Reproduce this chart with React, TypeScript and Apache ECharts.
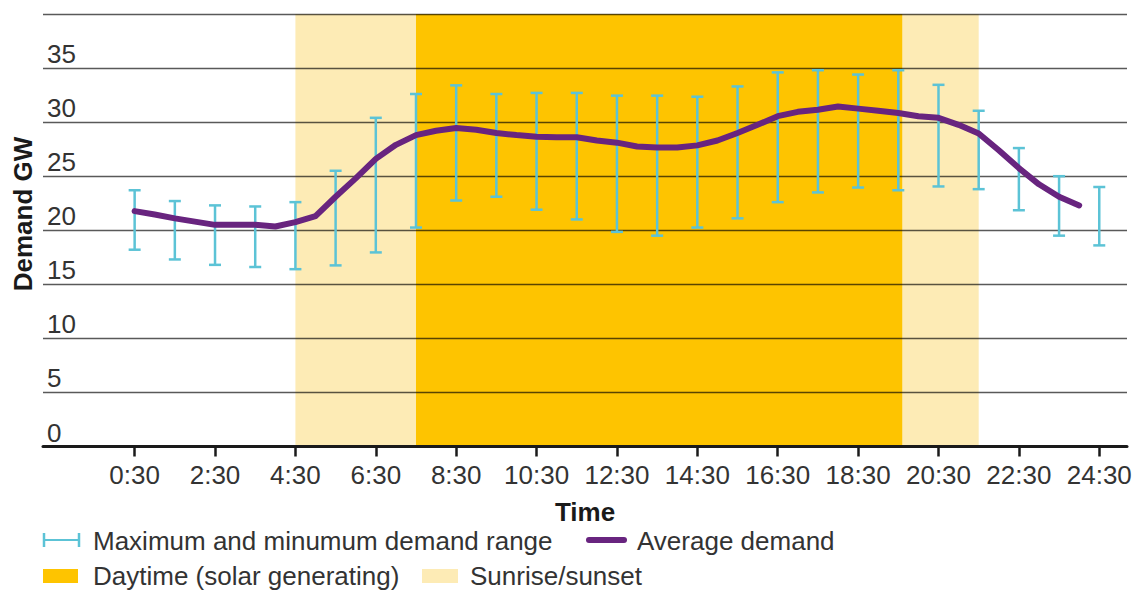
import React, { useEffect, useRef } from "react";
import * as echarts from "echarts";

// Average demand (GW), half-hourly, hours since midnight
const lineHours = [
  0.5, 1, 1.5, 2, 2.5, 3, 3.5, 4, 4.5, 5, 5.5, 6, 6.5, 7, 7.5, 8, 8.5, 9, 9.5, 10,
  10.5, 11, 11.5, 12, 12.5, 13, 13.5, 14, 14.5, 15, 15.5, 16, 16.5, 17, 17.5, 18,
  18.5, 19, 19.5, 20, 20.5, 21, 21.5, 22, 22.5, 23, 23.5, 24,
];
const avgDemand = [
  21.77, 21.45, 21.1, 20.8, 20.5, 20.5, 20.5, 20.35, 20.75, 21.3, 23.1, 24.8, 26.6,
  27.9, 28.8, 29.2, 29.45, 29.3, 29.0, 28.8, 28.65, 28.6, 28.6, 28.3, 28.1, 27.75,
  27.65, 27.65, 27.85, 28.3, 29.0, 29.75, 30.55, 30.95, 31.15, 31.45, 31.25, 31.05,
  30.85, 30.55, 30.4, 29.75, 28.95, 27.4, 25.75, 24.25, 23.1, 22.3,
];

// Max / min demand range, hourly
const rangeHours = [
  0.5, 1.5, 2.5, 3.5, 4.5, 5.5, 6.5, 7.5, 8.5, 9.5, 10.5, 11.5, 12.5, 13.5, 14.5,
  15.5, 16.5, 17.5, 18.5, 19.5, 20.5, 21.5, 22.5, 23.5, 24.5,
];
const minDemand = [
  18.2, 17.3, 16.8, 16.6, 16.4, 16.75, 17.95, 20.25, 22.75, 23.1, 21.9, 21.0, 19.85,
  19.5, 20.25, 21.1, 22.6, 23.5, 23.95, 23.7, 24.05, 23.8, 21.85, 19.5, 18.6,
];
const maxDemand = [
  23.7, 22.7, 22.3, 22.2, 22.6, 25.5, 30.4, 32.6, 33.4, 32.6, 32.7, 32.7, 32.45,
  32.45, 32.35, 33.3, 34.6, 34.8, 34.4, 34.8, 33.45, 31.05, 27.6, 25.0, 24.0,
];

// Shaded periods [start hour, end hour]
const sunriseBands: [number, number][] = [
  [4.5, 7.5],
  [19.6, 21.5],
];
const daytimeBands: [number, number][] = [[7.5, 19.6]];

const xTickHours = [0.5, 2.5, 4.5, 6.5, 8.5, 10.5, 12.5, 14.5, 16.5, 18.5, 20.5, 22.5, 24.5];

const legendLabels = {
  range: "Maximum and minumum demand range",
  avg: "Average demand",
  day: "Daytime (solar generating)",
  sun: "Sunrise/sunset",
};

const FONT = "'Liberation Sans', Arial, Helvetica, sans-serif";
const PURPLE = "#68247f";
const CYAN = "#5cc3d6";
const GOLD = "#fec400";
const LIGHT = "#fdebb5";
const TEXT = "#333333";

export default function App() {
  const ref = useRef<HTMLDivElement>(null);

  useEffect(() => {
    document.body.style.margin = "0";
    const chart = echarts.init(ref.current!, undefined, { renderer: "svg" });

    const lineData = lineHours.map((h, i) => [h, avgDemand[i]]);
    const rangeData = rangeHours.map((h, i) => [h, minDemand[i], maxDemand[i]]);

    const markAreaData: any[] = [
      ...sunriseBands.map(([a, b]) => [
        { xAxis: a, itemStyle: { color: LIGHT } },
        { xAxis: b },
      ]),
      ...daytimeBands.map(([a, b]) => [
        { xAxis: a, itemStyle: { color: GOLD } },
        { xAxis: b },
      ]),
    ];

    const option: any = {
      animation: false,
      grid: { left: 43, right: 8, top: 14, bottom: 143.5, containLabel: false },
      xAxis: {
        type: "value",
        min: -1.78,
        max: 25.19,
        z: 4,
        name: "Time",
        nameLocation: "middle",
        nameGap: 52,
        nameTextStyle: {
          fontFamily: FONT,
          fontSize: 26,
          fontWeight: "bold",
          color: "#1a1a1a",
        },
        axisLine: { show: true, onZero: false, lineStyle: { color: "#1a1a1a", width: 3 } },
        axisTick: {
          show: true,
          customValues: xTickHours,
          length: 10,
          lineStyle: { color: "#1a1a1a", width: 2.5 },
        },
        axisLabel: {
          customValues: xTickHours,
          margin: 15,
          fontFamily: FONT,
          fontSize: 26,
          color: TEXT,
          formatter: (v: number) => `${Math.floor(v)}:30`,
        },
        splitLine: { show: false },
      },
      yAxis: {
        type: "value",
        min: 0,
        max: 40,
        interval: 5,
        z: 3,
        axisLine: { show: false },
        axisTick: { show: false },
        axisLabel: {
          inside: true,
          margin: 4,
          verticalAlign: "bottom",
          lineHeight: 28,
          fontFamily: FONT,
          fontSize: 26,
          color: TEXT,
          formatter: (v: number) => (v === 40 ? "" : String(v)),
        },
        splitLine: { show: true, lineStyle: { color: "rgba(0,0,0,0.65)", width: 1.3 } },
      },
      series: [
        {
          type: "line",
          name: "bands",
          data: [],
          z: 1,
          silent: true,
          markArea: { silent: true, data: markAreaData },
        },
        {
          type: "custom",
          name: legendLabels.range,
          z: 5,
          data: rangeData,
          renderItem: (params: any, api: any) => {
            const x = api.value(0);
            const lo = api.coord([x, api.value(1)]);
            const hi = api.coord([x, api.value(2)]);
            const w = 6;
            const style = { stroke: CYAN, lineWidth: 2.5, fill: "none" };
            return {
              type: "group",
              children: [
                { type: "line", shape: { x1: lo[0], y1: lo[1], x2: hi[0], y2: hi[1] }, style },
                { type: "line", shape: { x1: hi[0] - w, y1: hi[1], x2: hi[0] + w, y2: hi[1] }, style },
                { type: "line", shape: { x1: lo[0] - w, y1: lo[1], x2: lo[0] + w, y2: lo[1] }, style },
              ],
            };
          },
        },
        {
          type: "line",
          name: legendLabels.avg,
          z: 6,
          data: lineData,
          showSymbol: false,
          symbol: "none",
          lineStyle: { color: PURPLE, width: 6, cap: "round", join: "round" },
        },
      ],
      graphic: [
        {
          type: "text",
          x: 23,
          y: 214,
          rotation: Math.PI / 2,
          style: {
            text: "Demand GW",
            fontFamily: FONT,
            fontSize: 26,
            fontWeight: "bold",
            fill: "#1a1a1a",
            align: "center",
            verticalAlign: "middle",
          },
        },
        // legend row 1: range icon
        { type: "line", shape: { x1: 44, y1: 540, x2: 79, y2: 540 }, style: { stroke: CYAN, lineWidth: 2 } },
        { type: "line", shape: { x1: 44, y1: 533, x2: 44, y2: 547 }, style: { stroke: CYAN, lineWidth: 2.5 } },
        { type: "line", shape: { x1: 79, y1: 533, x2: 79, y2: 547 }, style: { stroke: CYAN, lineWidth: 2.5 } },
        {
          type: "text",
          x: 93,
          y: 541,
          style: { text: legendLabels.range, fontFamily: FONT, fontSize: 26, fill: TEXT, align: "left", verticalAlign: "middle" },
        },
        {
          type: "line",
          shape: { x1: 589, y1: 540, x2: 624, y2: 540 },
          style: { stroke: PURPLE, lineWidth: 6, lineCap: "round" },
        },
        {
          type: "text",
          x: 637,
          y: 541,
          style: { text: legendLabels.avg, fontFamily: FONT, fontSize: 26, fill: TEXT, align: "left", verticalAlign: "middle" },
        },
        // legend row 2
        { type: "rect", shape: { x: 43, y: 569, width: 35, height: 14 }, style: { fill: GOLD } },
        {
          type: "text",
          x: 93,
          y: 576,
          style: { text: legendLabels.day, fontFamily: FONT, fontSize: 26, fill: TEXT, align: "left", verticalAlign: "middle" },
        },
        { type: "rect", shape: { x: 422, y: 569, width: 36, height: 14 }, style: { fill: LIGHT } },
        {
          type: "text",
          x: 470,
          y: 576,
          style: { text: legendLabels.sun, fontFamily: FONT, fontSize: 26, fill: TEXT, align: "left", verticalAlign: "middle" },
        },
      ],
    };

    chart.setOption(option);
    return () => chart.dispose();
  }, []);

  return (
    <div
      ref={ref}
      style={{ position: "absolute", left: 0, top: 0, width: 1135, height: 590, background: "#fff" }}
    />
  );
}
